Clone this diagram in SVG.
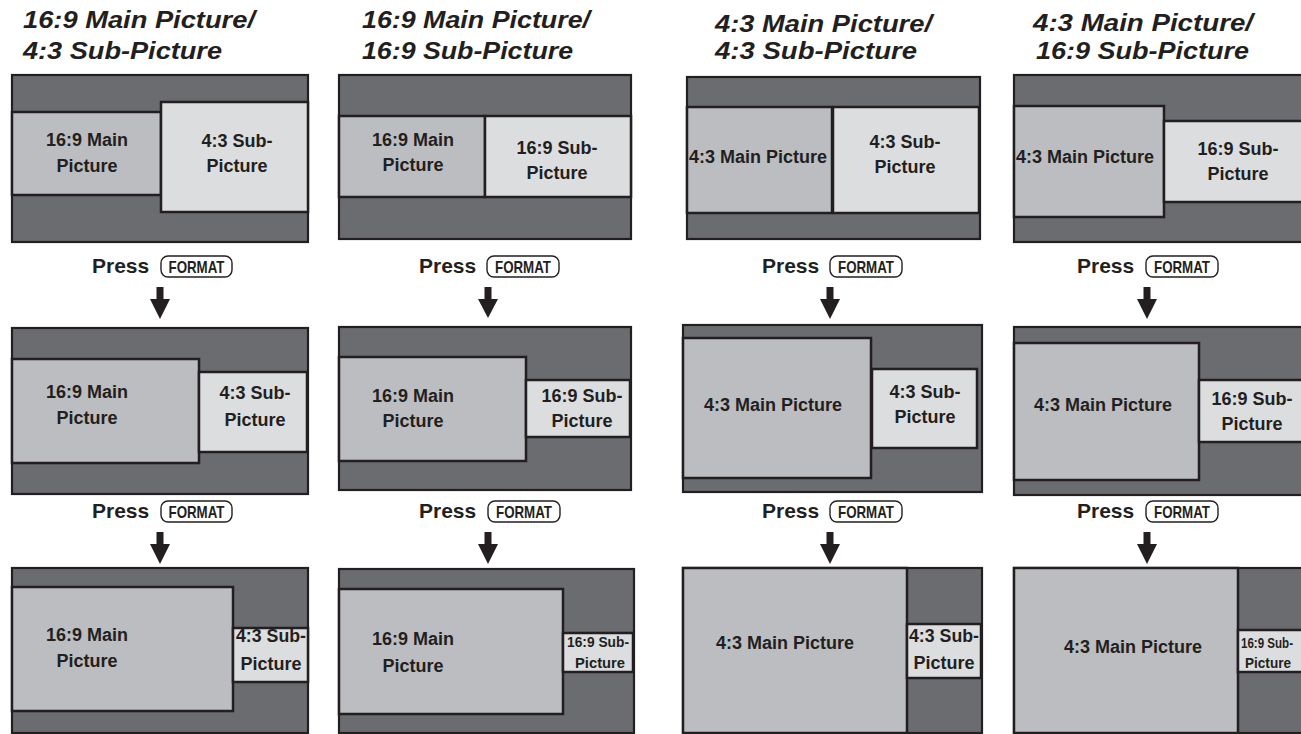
<svg xmlns="http://www.w3.org/2000/svg" width="1301" height="734" viewBox="0 0 1301 734">
<style>
.scr{fill:#6b6c70;stroke:#231f20;stroke-width:2.2}
.main{fill:#bcbdc0;stroke:#231f20;stroke-width:2.5}
.sub{fill:#dcdddf;stroke:#231f20;stroke-width:2.5}
.t{font-family:"Liberation Sans",Arial,sans-serif;font-weight:bold;font-size:18px;fill:#231f20;text-anchor:middle}
.ts{font-family:"Liberation Sans",Arial,sans-serif;font-weight:bold;font-size:15px;fill:#231f20;text-anchor:middle}
.title{font-family:"Liberation Sans",Arial,sans-serif;font-weight:bold;font-style:italic;font-size:24px;fill:#231f20}
.press{font-family:"Liberation Sans",Arial,sans-serif;font-weight:bold;font-size:21px;fill:#231f20}
.btn{fill:#ffffff;stroke:#231f20;stroke-width:1.4}
.btxt{font-family:"Liberation Sans",Arial,sans-serif;font-weight:bold;font-size:17px;fill:#231f20;text-anchor:middle}
.arr{fill:#231f20}
</style>
<rect width="1301" height="734" fill="#ffffff"/>

<g id="titles">
<text class="title" x="23" y="28" textLength="232" lengthAdjust="spacingAndGlyphs">16:9 Main Picture/</text>
<text class="title" x="23" y="59" textLength="199" lengthAdjust="spacingAndGlyphs">4:3 Sub-Picture</text>
<text class="title" x="362" y="28" textLength="228" lengthAdjust="spacingAndGlyphs">16:9 Main Picture/</text>
<text class="title" x="362" y="59" textLength="211" lengthAdjust="spacingAndGlyphs">16:9 Sub-Picture</text>
<text class="title" x="715" y="32" textLength="217" lengthAdjust="spacingAndGlyphs">4:3 Main Picture/</text>
<text class="title" x="715" y="59" textLength="202" lengthAdjust="spacingAndGlyphs">4:3 Sub-Picture</text>
<text class="title" x="1033" y="31" textLength="220" lengthAdjust="spacingAndGlyphs">4:3 Main Picture/</text>
<text class="title" x="1036" y="59" textLength="213" lengthAdjust="spacingAndGlyphs">16:9 Sub-Picture</text>
</g>

<!-- Column 1 -->
<g id="c1r1">
<rect class="scr" x="12" y="75" width="296" height="167"/>
<rect class="main" x="12" y="112" width="149" height="83"/>
<rect class="sub" x="161" y="102" width="147" height="110"/>
<text class="t" x="87" y="146">16:9 Main</text>
<text class="t" x="87" y="172">Picture</text>
<text class="t" x="237" y="147">4:3 Sub-</text>
<text class="t" x="237" y="172">Picture</text>
</g>
<g id="c1r2">
<rect class="scr" x="12" y="328" width="296" height="166"/>
<rect class="main" x="12" y="359" width="187" height="104"/>
<rect class="sub" x="199" y="372" width="108" height="80"/>
<text class="t" x="87" y="398">16:9 Main</text>
<text class="t" x="87" y="424">Picture</text>
<text class="t" x="255" y="399">4:3 Sub-</text>
<text class="t" x="255" y="426">Picture</text>
</g>
<g id="c1r3">
<rect class="scr" x="12" y="568" width="296" height="165"/>
<rect class="main" x="12" y="587" width="221" height="124"/>
<rect class="sub" x="233" y="628" width="75" height="54"/>
<text class="t" x="87" y="641">16:9 Main</text>
<text class="t" x="87" y="667">Picture</text>
<text class="t" x="271" y="642" textLength="70" lengthAdjust="spacingAndGlyphs">4:3 Sub-</text>
<text class="t" x="271" y="670">Picture</text>
</g>

<!-- Column 2 -->
<g id="c2r1">
<rect class="scr" x="339" y="75" width="292" height="164"/>
<rect class="main" x="339" y="116" width="146" height="81"/>
<rect class="sub" x="485" y="116" width="146" height="81"/>
<text class="t" x="413" y="146">16:9 Main</text>
<text class="t" x="413" y="171">Picture</text>
<text class="t" x="557" y="154">16:9 Sub-</text>
<text class="t" x="557" y="179">Picture</text>
</g>
<g id="c2r2">
<rect class="scr" x="339" y="327" width="292" height="163"/>
<rect class="main" x="339" y="357" width="187" height="104"/>
<rect class="sub" x="526" y="380" width="104" height="57"/>
<text class="t" x="413" y="402">16:9 Main</text>
<text class="t" x="413" y="427">Picture</text>
<text class="t" x="582" y="402">16:9 Sub-</text>
<text class="t" x="582" y="427">Picture</text>
</g>
<g id="c2r3">
<rect class="scr" x="339" y="569" width="295" height="164"/>
<rect class="main" x="339" y="589" width="224" height="125"/>
<rect class="sub" x="563" y="633" width="70" height="39"/>
<text class="t" x="413" y="645">16:9 Main</text>
<text class="t" x="413" y="672">Picture</text>
<text class="ts" x="598" y="647" textLength="62" lengthAdjust="spacingAndGlyphs">16:9 Sub-</text>
<text class="ts" x="600" y="668" textLength="50" lengthAdjust="spacingAndGlyphs">Picture</text>
</g>

<!-- Column 3 -->
<g id="c3r1">
<rect class="scr" x="687" y="77" width="293" height="162"/>
<rect class="main" x="687" y="107" width="145" height="106"/>
<rect class="sub" x="833" y="107" width="146" height="106"/>
<text class="t" x="758" y="163">4:3 Main Picture</text>
<text class="t" x="905" y="148">4:3 Sub-</text>
<text class="t" x="905" y="173">Picture</text>
</g>
<g id="c3r2">
<rect class="scr" x="683" y="325" width="299" height="167"/>
<rect class="main" x="683" y="338" width="188" height="140"/>
<rect class="sub" x="872" y="369" width="105" height="79"/>
<text class="t" x="773" y="411">4:3 Main Picture</text>
<text class="t" x="925" y="398">4:3 Sub-</text>
<text class="t" x="925" y="423">Picture</text>
</g>
<g id="c3r3">
<rect class="scr" x="683" y="568" width="299" height="165"/>
<rect class="main" x="683" y="568" width="224" height="165"/>
<rect class="sub" x="907" y="624" width="74" height="54"/>
<text class="t" x="785" y="649">4:3 Main Picture</text>
<text class="t" x="944" y="642" textLength="70" lengthAdjust="spacingAndGlyphs">4:3 Sub-</text>
<text class="t" x="944" y="669">Picture</text>
</g>

<!-- Column 4 -->
<g id="c4r1">
<rect class="scr" x="1014" y="75" width="300" height="167"/>
<rect class="main" x="1014" y="106" width="150" height="111"/>
<rect class="sub" x="1164" y="121" width="150" height="81"/>
<text class="t" x="1085" y="163">4:3 Main Picture</text>
<text class="t" x="1238" y="155">16:9 Sub-</text>
<text class="t" x="1238" y="180">Picture</text>
</g>
<g id="c4r2">
<rect class="scr" x="1014" y="327" width="300" height="168"/>
<rect class="main" x="1014" y="343" width="185" height="137"/>
<rect class="sub" x="1199" y="380" width="115" height="62"/>
<text class="t" x="1103" y="411">4:3 Main Picture</text>
<text class="t" x="1252" y="405">16:9 Sub-</text>
<text class="t" x="1252" y="430">Picture</text>
</g>
<g id="c4r3">
<rect class="scr" x="1014" y="568" width="300" height="165"/>
<rect class="main" x="1014" y="568" width="224" height="165"/>
<rect class="sub" x="1238" y="630" width="76" height="42"/>
<text class="t" x="1133" y="653">4:3 Main Picture</text>
<text class="ts" x="1267" y="648" textLength="52" lengthAdjust="spacingAndGlyphs">16:9 Sub-</text>
<text class="ts" x="1268" y="668" textLength="46" lengthAdjust="spacingAndGlyphs">Picture</text>
</g>

<g id="connectors">
<!-- column 1 -->
<text class="press" x="92" y="273">Press</text>
<rect class="btn" x="161" y="256" width="71" height="21" rx="7"/>
<text class="btxt" x="196.5" y="273" textLength="56" lengthAdjust="spacingAndGlyphs">FORMAT</text>
<polygon class="arr" points="156.5,287 163.5,287 163.5,299 170,299 160,319 150,299 156.5,299"/>
<text class="press" x="92" y="518">Press</text>
<rect class="btn" x="161" y="501" width="71" height="21" rx="7"/>
<text class="btxt" x="196.5" y="518" textLength="56" lengthAdjust="spacingAndGlyphs">FORMAT</text>
<polygon class="arr" points="156.5,532 163.5,532 163.5,544 170,544 160,564 150,544 156.5,544"/>
<!-- column 2 -->
<text class="press" x="419" y="273">Press</text>
<rect class="btn" x="487" y="256" width="72" height="21" rx="7"/>
<text class="btxt" x="523" y="273" textLength="56" lengthAdjust="spacingAndGlyphs">FORMAT</text>
<polygon class="arr" points="484.5,287 491.5,287 491.5,299 498,299 488,318 478,299 484.5,299"/>
<text class="press" x="419" y="518">Press</text>
<rect class="btn" x="488" y="501" width="72" height="21" rx="7"/>
<text class="btxt" x="524" y="518" textLength="56" lengthAdjust="spacingAndGlyphs">FORMAT</text>
<polygon class="arr" points="484.5,532 491.5,532 491.5,544 498,544 488,564 478,544 484.5,544"/>
<!-- column 3 -->
<text class="press" x="762" y="273">Press</text>
<rect class="btn" x="830" y="256" width="72" height="21" rx="7"/>
<text class="btxt" x="866" y="273" textLength="56" lengthAdjust="spacingAndGlyphs">FORMAT</text>
<polygon class="arr" points="826.5,287 833.5,287 833.5,299 840,299 830,319 820,299 826.5,299"/>
<text class="press" x="762" y="518">Press</text>
<rect class="btn" x="830" y="501" width="72" height="21" rx="7"/>
<text class="btxt" x="866" y="518" textLength="56" lengthAdjust="spacingAndGlyphs">FORMAT</text>
<polygon class="arr" points="826.5,532 833.5,532 833.5,544 840,544 830,564 820,544 826.5,544"/>
<!-- column 4 -->
<text class="press" x="1077" y="273">Press</text>
<rect class="btn" x="1146" y="256" width="72" height="21" rx="7"/>
<text class="btxt" x="1182" y="273" textLength="56" lengthAdjust="spacingAndGlyphs">FORMAT</text>
<polygon class="arr" points="1143.5,287 1150.5,287 1150.5,299 1157,299 1147,319 1137,299 1143.5,299"/>
<text class="press" x="1077" y="518">Press</text>
<rect class="btn" x="1146" y="501" width="72" height="21" rx="7"/>
<text class="btxt" x="1182" y="518" textLength="56" lengthAdjust="spacingAndGlyphs">FORMAT</text>
<polygon class="arr" points="1143.5,532 1150.5,532 1150.5,544 1157,544 1147,564 1137,544 1143.5,544"/>
</g>
</svg>
